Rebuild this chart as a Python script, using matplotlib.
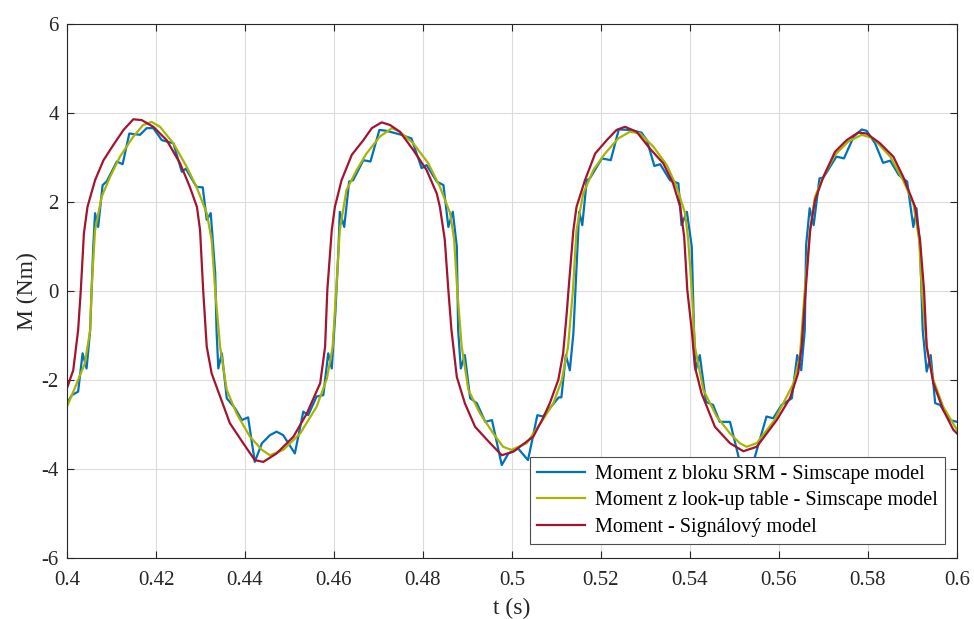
import matplotlib
matplotlib.use("Agg")
import matplotlib.pyplot as plt

# Moment z bloku SRM - Simscape model (blue)
t_srm = [0.4000, 0.4011, 0.4025, 0.4035, 0.4044, 0.4052, 0.4059, 0.4063, 0.4070, 0.4080,
         0.4089, 0.4112, 0.4125, 0.4140, 0.4164, 0.4179, 0.4194, 0.4213, 0.4239, 0.4258,
         0.4267, 0.4291, 0.4305, 0.4314, 0.4323, 0.4333, 0.4336, 0.4340, 0.4348, 0.4359,
         0.4378, 0.4393, 0.4407, 0.4422, 0.4438, 0.4456, 0.4471, 0.4486, 0.4512, 0.4531,
         0.4542, 0.4561, 0.4576, 0.4587, 0.4595, 0.4603, 0.4610, 0.4613, 0.4623, 0.4634,
         0.4643, 0.4666, 0.4682, 0.4702, 0.4718, 0.4748, 0.4774, 0.4797, 0.4808, 0.4831,
         0.4846, 0.4857, 0.4867, 0.4876, 0.4879, 0.4885, 0.4894, 0.4906, 0.4921, 0.4940,
         0.4955, 0.4977, 0.4992, 0.5014, 0.5036, 0.5057, 0.5070, 0.5105, 0.5111, 0.5121,
         0.5130, 0.5138, 0.5147, 0.5151, 0.5158, 0.5168, 0.5175, 0.5202, 0.5222, 0.5240,
         0.5265, 0.5291, 0.5303, 0.5320, 0.5333, 0.5355, 0.5374, 0.5381, 0.5393, 0.5404,
         0.5409, 0.5413, 0.5422, 0.5436, 0.5452, 0.5467, 0.5490, 0.5512, 0.5542, 0.5572,
         0.5587, 0.5606, 0.5629, 0.5641, 0.5650, 0.5658, 0.5661, 0.5669, 0.5678, 0.5691,
         0.5700, 0.5729, 0.5746, 0.5768, 0.5786, 0.5797, 0.5816, 0.5834, 0.5850, 0.5869,
         0.5888, 0.5902, 0.5909, 0.5917, 0.5923, 0.5932, 0.5941, 0.5951, 0.5962, 0.5984,
         0.6000]
m_srm = [-2.52, -2.34, -2.26, -1.40, -1.74, -0.88, 1.00, 1.75, 1.44, 2.38,
         2.46, 2.91, 2.85, 3.54, 3.51, 3.66, 3.66, 3.39, 3.32, 2.68,
         2.75, 2.34, 2.33, 1.60, 1.75, 0.40, -0.88, -1.74, -1.40, -2.41,
         -2.64, -2.90, -2.84, -3.84, -3.42, -3.24, -3.16, -3.24, -3.65, -2.71,
         -2.79, -2.37, -2.34, -1.40, -1.74, -0.50, 0.92, 1.78, 1.44, 2.46,
         2.49, 2.94, 2.91, 3.62, 3.60, 3.52, 3.43, 2.76, 2.83, 2.46,
         2.38, 1.44, 1.78, 1.00, -0.88, -1.74, -1.44, -2.41, -2.52, -2.94,
         -2.90, -3.91, -3.65, -3.54, -3.80, -2.79, -2.82, -2.39, -2.39, -1.44,
         -1.78, -0.95, 0.92, 1.78, 1.48, 2.49, 2.53, 2.98, 2.94, 3.63,
         3.62, 3.56, 3.39, 2.81, 2.85, 2.49, 2.42, 1.48, 1.78, 1.00,
         -0.88, -1.78, -1.44, -2.49, -2.56, -2.94, -2.94, -3.84, -3.86, -2.82,
         -2.86, -2.56, -2.41, -1.44, -1.78, -0.88, 1.03, 1.86, 1.48, 2.53,
         2.55, 3.02, 2.98, 3.47, 3.63, 3.60, 3.32, 2.88, 2.93, 2.61,
         2.46, 1.44, 1.86, 1.00, -0.88, -1.81, -1.44, -2.52, -2.56, -2.90,
         -2.94]

# Moment z look-up table - Simscape model (yellow)
t_lut = [0.4000, 0.4022, 0.4040, 0.4052, 0.4055, 0.4063, 0.4078, 0.4097, 0.4119, 0.4149,
         0.4171, 0.4190, 0.4209, 0.4239, 0.4269, 0.4291, 0.4314, 0.4325, 0.4333, 0.4344,
         0.4359, 0.4381, 0.4411, 0.4438, 0.4456, 0.4486, 0.4524, 0.4561, 0.4584, 0.4597,
         0.4605, 0.4613, 0.4628, 0.4651, 0.4673, 0.4703, 0.4730, 0.4748, 0.4778, 0.4812,
         0.4838, 0.4861, 0.4870, 0.4877, 0.4887, 0.4902, 0.4928, 0.4958, 0.4980, 0.4999,
         0.5033, 0.5067, 0.5093, 0.5112, 0.5126, 0.5137, 0.5145, 0.5160, 0.5183, 0.5209,
         0.5239, 0.5265, 0.5288, 0.5318, 0.5348, 0.5370, 0.5389, 0.5396, 0.5404, 0.5411,
         0.5430, 0.5460, 0.5490, 0.5512, 0.5527, 0.5550, 0.5590, 0.5633, 0.5647, 0.5658,
         0.5670, 0.5681, 0.5700, 0.5726, 0.5756, 0.5786, 0.5812, 0.5850, 0.5879, 0.5902,
         0.5915, 0.5921, 0.5932, 0.5947, 0.5969, 0.6000]
m_lut = [-2.60, -2.07, -1.63, -0.88, 0.02, 1.37, 2.12, 2.57, 3.02, 3.47,
         3.73, 3.80, 3.69, 3.32, 2.79, 2.34, 1.75, 1.15, 0.02, -1.25,
         -2.22, -2.75, -3.27, -3.57, -3.69, -3.57, -3.20, -2.60, -1.97, -1.25,
         0.02, 1.37, 2.27, 2.72, 3.09, 3.47, 3.66, 3.58, 3.32, 2.87,
         2.34, 1.75, 1.15, 0.02, -1.25, -2.22, -2.75, -3.20, -3.50, -3.57,
         -3.42, -2.93, -2.52, -2.00, -1.25, 0.02, 1.37, 2.19, 2.72, 3.09,
         3.43, 3.58, 3.54, 3.24, 2.83, 2.34, 1.75, 1.15, 0.02, -1.25,
         -2.22, -2.82, -3.20, -3.42, -3.50, -3.42, -2.90, -2.07, -1.48, 0.02,
         1.37, 2.12, 2.57, 3.06, 3.36, 3.51, 3.43, 3.02, 2.49, 1.97,
         1.15, 0.02, -1.25, -2.00, -2.60, -3.12]

# Moment - Signalovy model (red)
t_sig = [0.4000, 0.4014, 0.4025, 0.4031, 0.4038, 0.4046, 0.4063, 0.4082, 0.4104, 0.4127,
         0.4149, 0.4168, 0.4194, 0.4224, 0.4254, 0.4276, 0.4292, 0.4299, 0.4306, 0.4314,
         0.4325, 0.4344, 0.4366, 0.4396, 0.4422, 0.4441, 0.4471, 0.4509, 0.4539, 0.4569,
         0.4580, 0.4585, 0.4595, 0.4602, 0.4617, 0.4640, 0.4666, 0.4685, 0.4707, 0.4726,
         0.4748, 0.4778, 0.4808, 0.4831, 0.4838, 0.4849, 0.4857, 0.4864, 0.4876, 0.4894,
         0.4917, 0.4951, 0.4977, 0.5003, 0.5048, 0.5070, 0.5085, 0.5104, 0.5115, 0.5123,
         0.5127, 0.5138, 0.5145, 0.5164, 0.5187, 0.5213, 0.5235, 0.5254, 0.5280, 0.5310,
         0.5340, 0.5362, 0.5378, 0.5387, 0.5394, 0.5404, 0.5411, 0.5426, 0.5456, 0.5490,
         0.5520, 0.5550, 0.5595, 0.5625, 0.5643, 0.5651, 0.5660, 0.5670, 0.5681, 0.5700,
         0.5726, 0.5752, 0.5778, 0.5797, 0.5827, 0.5857, 0.5879, 0.5906, 0.5917, 0.5926,
         0.5932, 0.5947, 0.5969, 0.5992, 0.6000]
m_sig = [-2.18, -1.78, -0.88, 0.02, 1.30, 1.89, 2.49, 2.94, 3.28, 3.62,
         3.86, 3.84, 3.69, 3.39, 2.87, 2.34, 1.89, 1.37, 0.02, -1.25,
         -1.85, -2.37, -2.97, -3.42, -3.80, -3.84, -3.65, -3.27, -2.75, -2.07,
         -1.25, 0.02, 1.37, 1.89, 2.49, 3.06, 3.39, 3.66, 3.79, 3.73,
         3.58, 3.17, 2.72, 2.19, 1.89, 1.15, 0.02, -0.88, -1.93, -2.52,
         -3.05, -3.42, -3.69, -3.61, -3.27, -2.85, -2.52, -2.00, -1.40, -0.50,
         0.02, 1.37, 1.89, 2.49, 3.09, 3.39, 3.62, 3.69, 3.58, 3.20,
         2.87, 2.42, 1.89, 1.22, 0.02, -0.88, -1.70, -2.30, -3.05, -3.42,
         -3.60, -3.50, -2.90, -2.40, -1.85, -1.25, 0.02, 1.37, 2.04, 2.57,
         3.13, 3.39, 3.56, 3.54, 3.32, 3.02, 2.57, 1.89, 1.15, 0.02,
         -1.25, -2.07, -2.67, -3.12, -3.20]

labels = ["Moment z bloku SRM - Simscape model",
          "Moment z look-up table - Simscape model",
          "Moment - Signálový model"]
x_ticks = [0.4, 0.42, 0.44, 0.46, 0.48, 0.5, 0.52, 0.54, 0.56, 0.58, 0.6]
x_tick_labels = ["0.4", "0.42", "0.44", "0.46", "0.48", "0.5", "0.52", "0.54", "0.56", "0.58", "0.6"]
y_ticks = [-6, -4, -2, 0, 2, 4, 6]

plt.rcParams['font.family'] = ['Liberation Serif', 'DejaVu Serif']
plt.rcParams['axes.unicode_minus'] = False

fig = plt.figure(figsize=(9.74, 6.19), dpi=100)
ax = fig.add_axes([0.0688, 0.0985, 0.9137, 0.8627])

ax.plot(t_srm, m_srm, color='#0072BD', lw=1.6, label=labels[0])
ax.plot(t_lut, m_lut, color='#A9B400', lw=1.6, label=labels[1])
ax.plot(t_sig, m_sig, color='#A2142F', lw=1.6, label=labels[2])

ax.set_xlim(0.4, 0.6)
ax.set_ylim(-6, 6)
ax.set_xticks(x_ticks)
ax.set_xticklabels(x_tick_labels)
ax.set_yticks(y_ticks)
ax.tick_params(direction='in', length=5, width=0.8, colors='#262626', labelsize=15,
               top=True, right=True)
ax.tick_params(axis='x', pad=9)
ax.tick_params(axis='y', pad=6)
ax.grid(True, color='#dcdcdc', lw=0.8)
ax.set_axisbelow(True)
for sp in ax.spines.values():
    sp.set_color('#262626')
    sp.set_linewidth(0.8)

ax.set_xlabel('t (s)', fontsize=17, color='#262626', labelpad=6)
ax.set_ylabel('M (Nm)', fontsize=17, color='#262626', labelpad=2)

leg = ax.legend(loc='lower right', bbox_to_anchor=(0.9865, 0.026), borderaxespad=0,
                fontsize=14.5, frameon=True, fancybox=False, framealpha=1,
                edgecolor='#4d4d4d', handlelength=2.4, handletextpad=0.5,
                labelspacing=0.38, borderpad=0.35)
leg.get_frame().set_linewidth(0.8)

fig.savefig('out.png', dpi=100)
